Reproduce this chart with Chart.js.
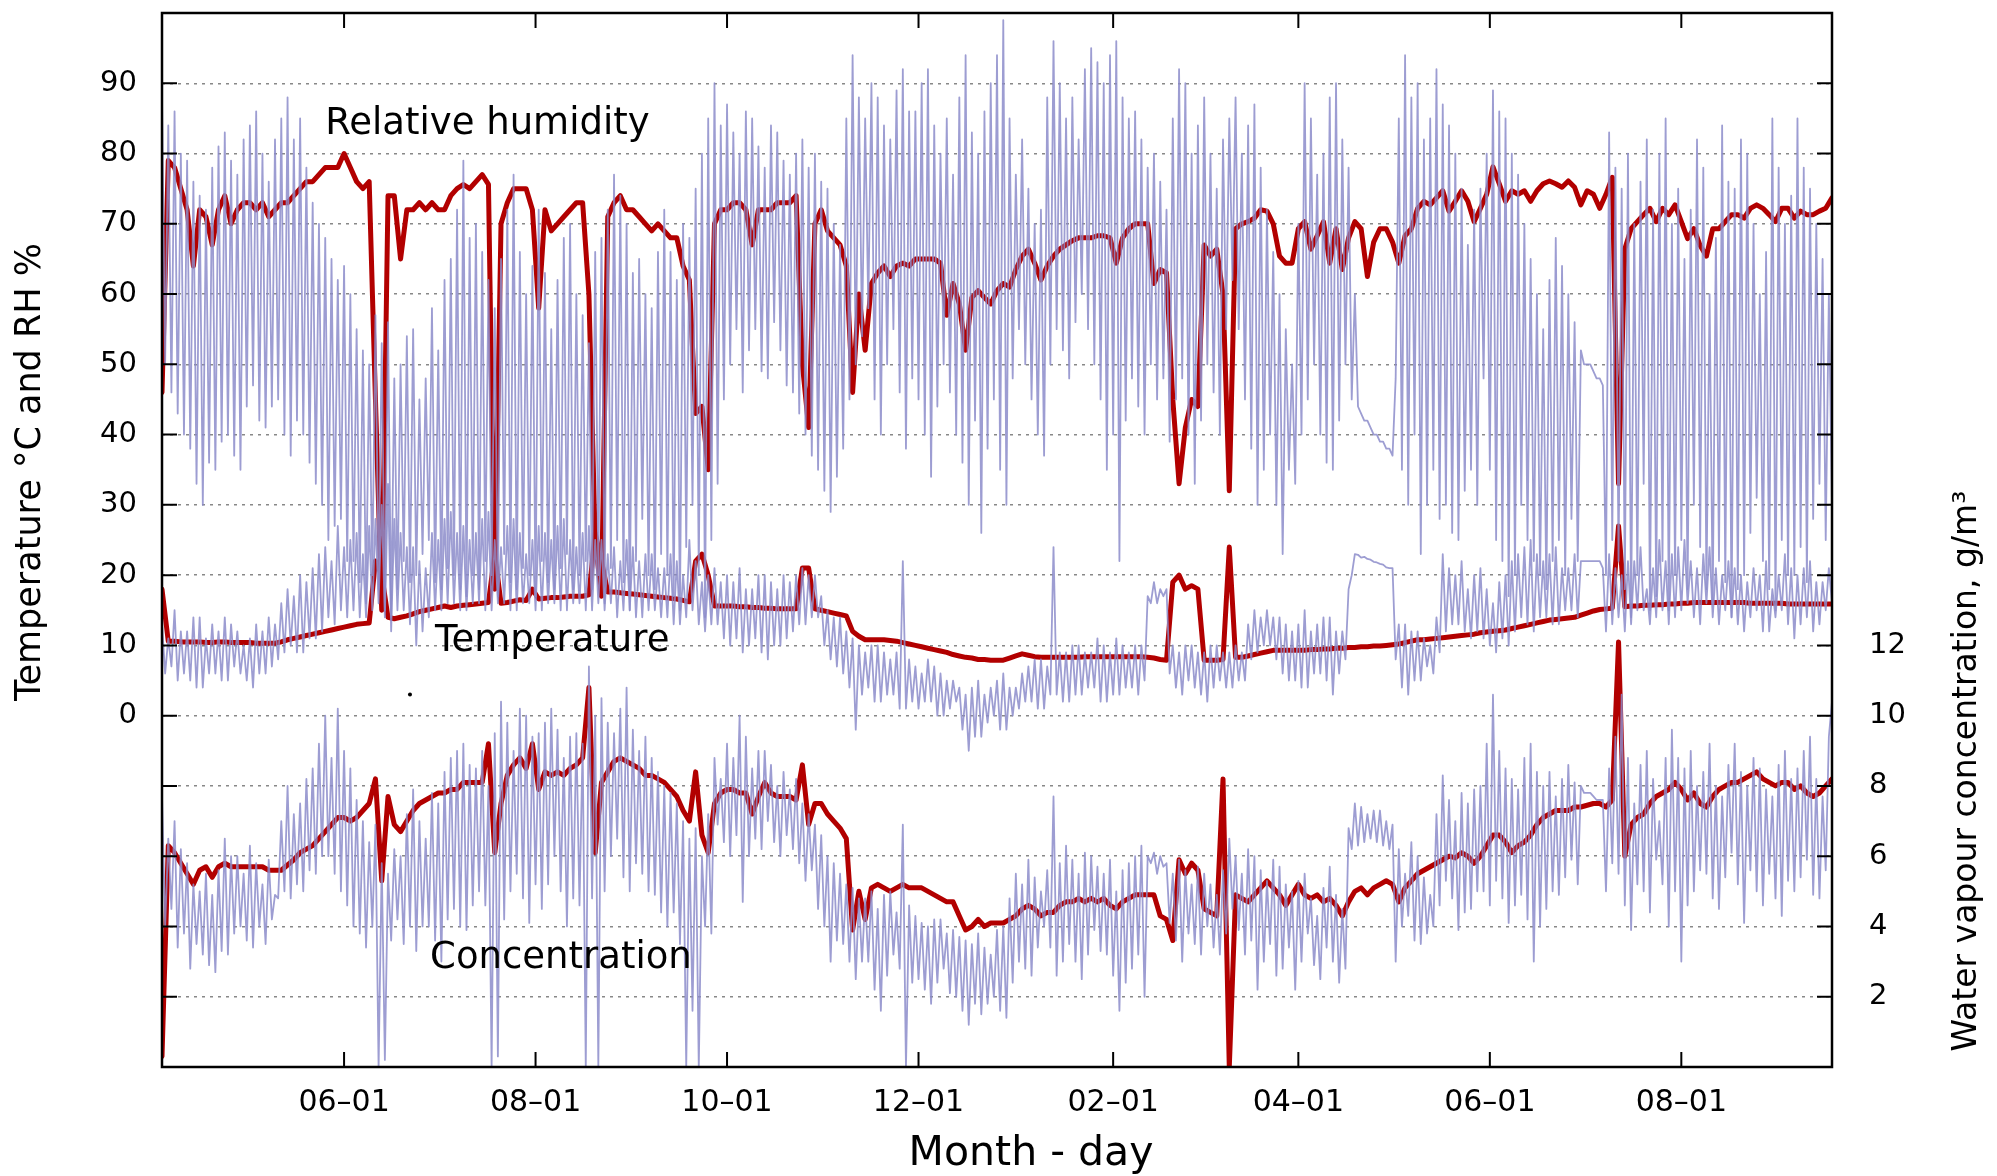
<!DOCTYPE html>
<html>
<head>
<meta charset="utf-8">
<script src="https://cdn.jsdelivr.net/npm/chart.js@4.4.1/dist/chart.umd.min.js"></script>
<style>
  html, body { margin: 0; padding: 0; background: #fff; }
  canvas { display: block; }
</style>
</head>
<body>
<canvas id="chart" width="1997" height="1176"></canvas>
<script>
// days counted from 1 April of the first year
// outdoor readings: one a day; indoor readings: one every 2 days
var FIRST_DAY = 3;
var OUT_STEP = 1;
var IN_STEP = 2;

var tickDays = [61, 122, 183, 244, 306, 365, 426, 487];
var tickLabels = ['06\u201301', '08\u201301', '10\u201301', '12\u201301', '02\u201301', '04\u201301', '06\u201301', '08\u201301'];

// indoor relative humidity, %
var rhIn = [
  46, 79, 78, 75, 72, 64, 72, 71, 67, 72,
  74, 70, 72, 73, 73, 72, 73, 71, 72, 73,
  73, 74, 75, 76, 76, 77, 78, 78, 78, 80,
  78, 76, 75, 76, 45, 15, 74, 74, 65, 72,
  72, 73, 72, 73, 72, 72, 74, 75, 75.6, 75,
  76, 77, 75.6, 18, 70, 73, 75, 75, 75, 72,
  58, 72, 69, 70, 71, 72, 73, 73, 60, 25,
  17, 71, 73, 74, 72, 72, 71, 70, 69, 70,
  69, 68, 68, 64, 62, 43, 44, 35, 70, 72,
  72, 73, 73, 72, 67, 72, 72, 72, 73, 73,
  73, 74, 50, 41, 70, 72, 69, 68, 67, 64,
  46, 60, 52, 61.5, 63, 64, 62.5, 64, 64.4, 64,
  65, 65, 65, 65, 64.4, 57, 61.5, 58.6, 52, 59.5,
  60.5, 59.5, 58.6, 60.5, 61.5, 61, 63.5, 65.4, 66.4, 64.4,
  62, 64, 65.4, 66.4, 67, 67.6, 68, 68, 68, 68.3,
  68.3, 68, 64.4, 68, 69.3, 70, 70, 70, 61.5, 63.5,
  63, 45, 33, 41, 45, 44, 67, 65.4, 66.4, 60,
  32, 69.3, 70, 70.3, 70.8, 72, 71.8, 70, 65.4, 64.4,
  64.4, 69.3, 70.3, 66.4, 68.3, 70.3, 64.4, 69.3, 63.5, 68,
  70.3, 69.3, 62.5, 67.4, 69.3, 69.3, 67.4, 64.4, 68.3, 69.3,
  72.2, 73.2, 72.7, 73.7, 74.7, 71.8, 73.2, 74.7, 73.2, 70.3,
  72.2, 74.2, 78.1, 75.7, 73.2, 74.7, 74.2, 74.7, 73.2, 74.7,
  75.7, 76.1, 75.7, 75.2, 76.1, 75.2, 72.7, 74.7, 74.2, 72.2,
  74.2, 76.6, 33, 66.4, 69.3, 70.3, 71.3, 72.2, 70.3, 72.2,
  71.3, 72.7, 70.3, 67.9, 69.3, 66.9, 65.4, 69.3, 69.3, 70.3,
  71.3, 71.3, 70.8, 72.2, 72.7, 72.2, 71.3, 70.3, 72.2, 72.2,
  70.8, 71.8, 71.3, 71.3, 71.8, 72.2, 73.7
];

// indoor temperature, °C
var tempIn = [
  18, 10.6, 10.6, 10.5, 10.5, 10.5, 10.5, 10.4, 10.4, 10.5,
  10.5, 10.4, 10.4, 10.4, 10.4, 10.3, 10.3, 10.3, 10.3, 10.5,
  10.8, 11.0, 11.2, 11.4, 11.6, 11.8, 12.0, 12.2, 12.4, 12.6,
  12.8, 13.0, 13.1, 13.2, 22, 20, 14, 13.8, 14.0, 14.2,
  14.5, 14.8, 15.0, 15.2, 15.4, 15.6, 15.4, 15.6, 15.7, 15.8,
  15.9, 16.0, 16.1, 23, 16, 16.1, 16.3, 16.5, 16.4, 18,
  16.6, 16.7, 16.8, 16.8, 16.9, 17.0, 17.0, 17.0, 17.2, 26,
  22, 17.6, 17.6, 17.5, 17.4, 17.3, 17.2, 17.1, 17.0, 16.9,
  16.8, 16.7, 16.6, 16.4, 16.2, 22, 23, 20, 15.6, 15.6,
  15.6, 15.6, 15.5, 15.5, 15.4, 15.4, 15.3, 15.3, 15.2, 15.2,
  15.2, 15.2, 21, 21, 15.2, 15.0, 14.8, 14.6, 14.4, 14.2,
  12, 11.3, 10.8, 10.8, 10.8, 10.8, 10.7, 10.6, 10.4, 10.2,
  10.0, 9.8, 9.6, 9.4, 9.2, 9.0, 8.7, 8.5, 8.3, 8.2,
  8.0, 8.0, 7.9, 7.9, 7.9, 8.2, 8.5, 8.8, 8.6, 8.4,
  8.3, 8.3, 8.3, 8.3, 8.3, 8.3, 8.3, 8.4, 8.4, 8.4,
  8.4, 8.4, 8.4, 8.4, 8.4, 8.4, 8.4, 8.3, 8.2, 8.0,
  7.9, 19, 20, 18, 18.5, 18, 7.9, 7.9, 7.9, 8.0,
  24, 8.3, 8.3, 8.5, 8.7, 8.9, 9.1, 9.3, 9.3, 9.3,
  9.3, 9.3, 9.3, 9.4, 9.4, 9.5, 9.5, 9.6, 9.6, 9.7,
  9.7, 9.8, 9.8, 9.9, 9.9, 10.0, 10.1, 10.2, 10.4, 10.6,
  10.8, 10.8, 10.9, 11.0, 11.1, 11.2, 11.3, 11.4, 11.5, 11.6,
  11.8, 11.9, 12.0, 12.1, 12.2, 12.4, 12.6, 12.8, 13.0, 13.2,
  13.4, 13.6, 13.7, 13.8, 13.9, 14.0, 14.3, 14.6, 14.9, 15.1,
  15.2, 15.3, 27, 15.5, 15.6, 15.6, 15.7, 15.7, 15.8, 15.8,
  15.9, 15.9, 16.0, 16.0, 16.1, 16.1, 16.1, 16.1, 16.1, 16.1,
  16.1, 16.1, 16.1, 16.0, 16.0, 16.0, 16.0, 16.0, 16.0, 15.9,
  15.9, 15.9, 15.9, 15.9, 15.9, 15.9, 15.9
];

// indoor water vapour concentration, g/m3
var concIn = [
  0.3, 6.3, 6.1, 5.8, 5.5, 5.2, 5.6, 5.7, 5.4, 5.7,
  5.8, 5.7, 5.7, 5.7, 5.7, 5.7, 5.7, 5.6, 5.6, 5.6,
  5.75, 5.9, 6.1, 6.2, 6.3, 6.5, 6.7, 6.9, 7.1, 7.1,
  7.0, 7.1, 7.3, 7.5, 8.2, 5.3, 7.7, 6.9, 6.7, 7.0,
  7.3, 7.5, 7.6, 7.7, 7.8, 7.8, 7.9, 7.9, 8.1, 8.1,
  8.1, 8.1, 9.2, 6.1, 7.5, 8.3, 8.6, 8.8, 8.5, 9.2,
  7.9, 8.4, 8.3, 8.4, 8.3, 8.5, 8.6, 8.8, 10.8, 6.1,
  8.1, 8.4, 8.7, 8.8, 8.7, 8.6, 8.5, 8.3, 8.3, 8.2,
  8.1, 7.9, 7.7, 7.3, 7.0, 8.4, 6.6, 6.1, 7.5, 7.8,
  7.9, 7.9, 7.8, 7.8, 7.2, 7.7, 8.1, 7.8, 7.7, 7.7,
  7.7, 7.6, 8.6, 6.9, 7.5, 7.5, 7.2, 7.0, 6.8, 6.5,
  3.9, 5.0, 4.2, 5.1, 5.2, 5.1, 5.0, 5.1, 5.2, 5.1,
  5.1, 5.1, 5.0, 4.9, 4.8, 4.7, 4.7, 4.3, 3.9, 4.0,
  4.2, 4.0, 4.1, 4.1, 4.1, 4.2, 4.3, 4.5, 4.6, 4.5,
  4.3, 4.4, 4.4, 4.6, 4.7, 4.7, 4.8, 4.7, 4.8, 4.7,
  4.8, 4.6, 4.5, 4.7, 4.8, 4.9, 4.9, 4.9, 4.9, 4.3,
  4.2, 3.6, 5.9, 5.5, 5.8, 5.6, 4.5, 4.4, 4.3, 8.2,
  0, 4.9, 4.8, 4.7, 4.9, 5.1, 5.3, 5.1, 4.9, 4.6,
  4.9, 5.2, 4.9, 4.8, 4.9, 4.7, 4.8, 4.6, 4.3, 4.7,
  5.0, 5.1, 4.9, 5.1, 5.2, 5.3, 5.2, 4.7, 5.1, 5.3,
  5.5, 5.6, 5.7, 5.8, 5.9, 6.0, 5.95, 6.1, 6.0, 5.8,
  6.0, 6.3, 6.6, 6.6, 6.4, 6.1, 6.3, 6.4, 6.6, 6.9,
  7.1, 7.2, 7.3, 7.3, 7.3, 7.4, 7.4, 7.45, 7.5, 7.5,
  7.4, 7.6, 12.1, 6.0, 6.9, 7.1, 7.2, 7.5, 7.7, 7.8,
  7.9, 8.1, 7.9, 7.6, 7.8, 7.5, 7.4, 7.7, 7.9, 8.0,
  8.1, 8.1, 8.2, 8.3, 8.4, 8.2, 8.1, 8.0, 8.1, 8.1,
  7.9, 8.0, 7.8, 7.7, 7.8, 8.0, 8.2
];

// outdoor relative humidity, %
var rhOut = [
  88,50,84,46, 86,43,80,40, 79,38,76,33, 74,30,72,36, 78,35,81,39,
  83,40,79,37, 77,35,82,44, 84,47,86,42, 80,41,76,44, 82,45,85,40,
  88,37,82,42, 85,40,78,36, 73,33,70,30, 68,25,65,27, 62,28,64,22,
  60,22,55,19, 52,16,50,20, 57,18,53,15, 56,14,48,18, 50,22,54,19,
  55,20,45,23, 48,25,58,19, 52,18,62,21, 65,20,72,18, 79,17,68,20,
  70,18,66,22, 62,20,58,17, 65,23,72,19, 77,18,66,21, 60,20,64,17,
  72,22,63,19, 55,18,62,21, 68,23,70,18, 60,20,57,22, 53,18,66,20,
  68,16,72,21, 77,25,74,19, 70,15,63,22, 65,28,60,20, 58,18,66,23,
  72,20,66,17, 62,15,70,24, 68,30,75,20, 80,14,85,25, 90,33,84,45,
  87,50,83,55, 80,46,86,52, 85,55,81,49, 78,48,84,56, 83,52,79,47,
  77,46,80,43, 82,40,78,37, 80,35,76,32, 75,29,70,34, 67,38,85,45,
  94,50,88,54, 85,58,90,45, 88,40,84,50, 82,55,89,46, 92,38,86,48,
  86,45,90,40, 92,34,84,44, 80,50,85,46, 77,40,88,36, 94,30,83,42,
  80,26,86,38, 90,45,94,35, 99,30,85,48, 77,55,82,50, 75,45,70,40,
  72,37,88,50, 96,55,90,52, 85,48,88,56, 82,60,92,55, 95,50,93,45,
  90,35,94,40, 96,22,88,42, 85,48,86,44, 82,40,78,50, 80,45,76,48,
  72,39,85,45, 92,48,90,40, 80,33,84,42, 88,50,80,46, 75,40,82,55,
  85,62,88,55, 80,45,84,38, 87,30,78,35, 72,40,66,30, 60,23,55,35,
  50,33,70,40, 90,45,85,50, 77,40,80,36, 88,35,90,42, 82,50,78,45,
  60,44,43,42, 42,41,40,40, 39,39,38,38, 37,48,85,35, 94,30,88,40,
  90,23,82,30, 85,35,92,28, 87,30,84,26, 80,25,75,32, 67,35,72,30,
  75,48,80,35, 89,25,86,22, 85,17,80,20, 77,30,70,25, 65,22,60,20,
  55,18,62,22, 68,25,64,20, 60,28,56,22, 52,50,50,50, 49,48,48,47,
  20,83,25,78, 22,75,18,80, 14,70,20,76, 33,82,15,72, 17,80,22,85,
  15,70,20,75, 25,65,18,72, 30,82,24,78, 18,60,16,68, 22,84,19,76,
  14,75,18,82, 20,80,26,70, 31,60,22,66, 18,85,15,78, 25,70,20,74,
  20,85,24,78, 19,75,28,70, 33,65,25,60, 30
];

// outdoor temperature, °C
var tempOut = [
  13,6,11,7, 15,5,12,6, 12,5,14,4, 14,4,11,6, 13,6,12,5,
  14,5,13,7, 12,6,10,5, 11,4,13,6, 12,6,14,7, 13,8,16,9,
  18,10,17,9, 20,9,19,11, 21,11,23,12, 24,14,22,13, 27,15,24,14,
  25,15,26,14, 23,14,27,15, 28,16,30,14, 33,12,28,15, 26,15,24,13,
  24,10,22,12, 21,14,26,15, 25,15,28,16, 29,16,26,15, 27,15,25,16,
  26,16,28,15, 29,15,25,16, 24,16,27,15, 28,15,26,16, 23,16,25,15,
  27,15,26,16, 25,16,27,15, 28,15,25,16, 24,16,26,15, 27,15,25,16,
  25,15,23,16, 24,14,22,15, 25,15,24,14, 22,14,23,15, 23,15,21,14,
  21,14,23,13, 22,13,20,14, 25,15,22,13, 19,12,20,13, 21,13,19,11,
  20,10,19,11, 21,9,18,10, 18,11,20,9, 20,8,19,10, 18,10,20,11,
  19,12,20,13, 21,13,20,14, 20,14,17,10, 15,8,14,7, 14,6,12,4,
  11,-2,10,3, 9,4,10,2, 10,2,9,3, 8,3,9,1, 22,1,8,2,
  7,1,6,2, 8,2,7,0, 6,0,5,1, 5,2,4,-2, 3,-5,4,-3,
  5,-3,3,-1, 4,0,5,-2, 6,-2,4,0, 4,1,6,2, 7,2,8,1,
  8,1,7,3, 24,3,9,2, 9,2,10,3, 10,3,9,4, 9,4,11,2,
  10,2,9,3, 11,3,10,4, 9,4,10,3, 10,5,17,16, 19,16,18,17,
  18,6,10,4, 9,3,10,5, 10,4,9,3, 9,2,10,4, 10,5,9,4,
  9,4,10,5, 9,5,13,8, 15,9,14,10, 15,10,14,8, 14,6,13,5,
  12,5,13,4, 15,4,12,6, 13,6,14,5, 14,3,12,6, 12,8,18,20,
  23,22.9,22.5,22.6, 22.3,22.2,21.9,21.8, 21.6,21.5,21.1,21, 21,8,13,4, 13,3,12,5,
  12,5,11,7, 10,6,14,9, 23,12,21,13, 20,13,22,12, 18,11,20,12,
  21,11,18,10, 16,9,19,11, 20,10,22,12, 23,14,24,13, 25,12,23,14,
  22,14,23,13, 24,13,21,15, 21,15,23,14, 22,22,22,22, 22,22,22,21,
  12,23,13,21, 14,20,12,22, 13,22,15,24, 15,18,13,21, 14,25,15,22,
  13,23,14,24, 15,25,16,22, 14,21,13,23, 16,24,14,21, 13,20,15,22,
  14,21,13,20, 12,19,14,21, 15,20,12,22, 12,18,14,20, 15,23,13,21,
  11,20,13,21, 14,22,12,19, 13,19,15,21, 16
];

// outdoor water vapour concentration, g/m3
var concOut = [
  7.7,4,6.5,4.5, 7,3.4,6.2,3.8, 5.8,2.8,5.2,3.5, 5,3.2,5.5,2.9, 4.9,2.7,5.6,3.3,
  6.5,3.2,6,3.8, 6,4,5.5,3.6, 6.3,3.4,5.8,4, 5.2,3.5,5.9,4.2, 4.9,4.8,7,5,
  8,4.8,7.2,5.2, 7.5,5,8.2,5.6, 8.5,5.5,9.2,6, 10,6,8.8,5.5, 10.2,5,9,4.6,
  8.5,4,7.6,3.8, 7,3.4,6.4,4, 6.9,0,5.8,0.2, 5.5,3.6,6.2,4.2, 6,3.5,7.2,4,
  7.9,3.3,7,4, 6.5,4,7.8,3.6, 7.5,3,8.4,4.2, 8.8,4.5,9,4, 9.2,3.9,8.6,4.6,
  8.5,5,9,4.6, 8,0,9.5,0.3, 10.4,4.2,9.8,5, 9,5.5,10.2,4.8, 10,4.1,9.4,5.2,
  9.5,4.5,9.8,5.2, 10.2,6,9.6,5, 8.8,4,9.4,4.8, 9.5,4.6,9.2,0, 11.4,4.8,10,0,
  10.5,5,9.8,6, 9.5,6.5,10.2,5.4, 10.8,5,9.6,5.8, 9,5.5,9.4,5, 8.8,4.9,8.4,4.4,
  8,4,7.8,4.4, 7.5,3.5,7,0, 6.5,1.6,6.8,0, 6,4,7.2,3.8, 8.8,6.9,8.2,6.4,
  9.2,6,8.8,6.6, 10,4.7,9.4,6, 8.5,6.5,9,6.2, 9,7,8.6,6.4, 8,6,8.4,6.6,
  7.9,6.2,8.2,5.8, 7.5,5.3,7.2,5.6, 6.9,4.5,6.6,4, 6,3,5.8,3.6, 5.5,3.5,5.2,3,
  5.1,2.5,4.8,3, 4.8,3,5,2.2, 4.5,1.6,4.9,2.6, 5,3.2,4.4,2.8, 6.9,0,4.6,2.4,
  4.3,2.5,4.1,2.2, 4,1.8,4.2,2.4, 4.2,2.8,3.8,2.1, 3.9,2,3.7,1.6, 3.6,1.2,3.5,1.8,
  3.8,1.5,3.4,1.8, 3.2,2,3.9,1.6, 4,1.4,4.8,2.4, 5.5,3,5.2,2.8, 5.9,2.6,5.4,3.4,
  5,4,5.6,3.4, 7.7,2.6,5.8,3, 6.3,3.5,5.9,3, 5.5,2.5,6.1,3.2, 6,3.9,5.7,3.3,
  5.5,3.2,5.9,2.6, 5,1.6,5.6,2.4, 5.8,2.8,6,3.2, 6.3,2,6,5.8, 6.1,5.5,6,5.7,
  5.8,4.1,5.5,3.6, 5.9,3,5.6,3.8, 5.2,3.5,5.7,3.2, 5.5,4,5.2,3.4, 4.9,3.2,5.6,3.8,
  6.5,4.5,6,3.9, 5.5,3.2,6.2,3.6, 6,2.2,5.6,3, 5.3,3.5,5.9,2.6, 5.7,2.8,5.2,3.4,
  5,2.2,5.3,3, 5.5,3.8,4.8,2.9, 4.3,2.5,5.1,3.4, 5.7,3,4.9,2.4, 4.5,2.8,6.8,6.2,
  7.5,6.3,7.4,6.4, 7.2,6.5,7.3,6.4, 7.3,6.3,7,6.2, 6.9,3,6.2,4, 5.5,4.3,6.4,3.6,
  6,3.5,5.4,3.8, 4.9,4,7.2,4.6, 8.3,5.3,7.6,4.8, 7,3.9,7.8,4.4, 7.5,4.5,7.9,5,
  8,5,9.2,4.6, 10.6,5.3,9,4.8, 8.5,4.1,8.2,4.6, 7.9,4.9,8.8,4.2, 9.2,3,8.4,4,
  8,4.5,8.4,5, 7.7,4.9,8.2,5.4, 8.6,5.9,8.1,5.2, 8,7.8,7.8,7.8, 7.7,7.6,7.6,7.6,
  5,8.5,5.8,9.4, 5.5,10.6,4.6,8.8, 3.9,7.5,5.2,8.6, 5,9,4.4,8.2, 5.9,7,5.2,8.8,
  4,9.6,5,8.8, 3,8.5,4.6,9, 5,8,5.6,8.4, 5.5,9.2,4.8,8, 4.5,7.7,5.4,8.6,
  6.1,9.2,5.2,8.4, 4.1,8,5.6,8.8, 5,8.5,4.6,7.9, 5.5,7.7,4.8,8.6, 4.3,9,5.3,8.2,
  5,8.5,5.4,9, 5.9,9.4,4.9,8.2, 4.8,7.7,5.6,9.4, 10.4
];

// lone point near the temperature label
var strayDays = [82];
var strayValues = [3];

function series(values, step) {
  return values.map(function (v, i) {
    return { x: FIRST_DAY + step * i, y: v };
  });
}

var FONT = 'DejaVu Sans';
var BLUE = 'rgba(140,140,202,0.85)';
var RED = '#b20000';

var notes = [
  { text: 'Relative humidity', day: 55, value: 84.2 },
  { text: 'Temperature', day: 90, value: 10.6 },
  { text: 'Concentration', day: 88.4, value: -34.5 }
];

// keep the plot box where the reference has it
function noPadding(scale) {
  scale.paddingTop = 0;
  scale.paddingBottom = 0;
  scale.paddingLeft = 0;
  scale.paddingRight = 0;
}

var framePlugin = {
  id: 'frame',
  afterDatasetsDraw: function (chart) {
    var ctx = chart.ctx, xs = chart.scales.x, ys = chart.scales.y;
    ctx.save();
    ctx.fillStyle = '#000';
    ctx.font = '37px "' + FONT + '"';
    ctx.textAlign = 'left';
    ctx.textBaseline = 'middle';
    notes.forEach(function (n) {
      ctx.fillText(n.text, xs.getPixelForValue(n.day), ys.getPixelForValue(n.value));
    });
    ctx.restore();
  },
  afterDraw: function (chart) {
    var ctx = chart.ctx, a = chart.chartArea;
    var xs = chart.scales.x, ys = chart.scales.y;
    var tl = 15;
    ctx.save();
    ctx.strokeStyle = '#000';
    ctx.lineWidth = 2;
    ctx.beginPath();
    xs.ticks.forEach(function (t) {
      var px = xs.getPixelForValue(t.value);
      ctx.moveTo(px, a.bottom); ctx.lineTo(px, a.bottom - tl);
      ctx.moveTo(px, a.top); ctx.lineTo(px, a.top + tl);
    });
    ys.ticks.forEach(function (t) {
      if (t.value <= ys.min || t.value >= ys.max) return;
      var py = ys.getPixelForValue(t.value);
      ctx.moveTo(a.left, py); ctx.lineTo(a.left + tl, py);
      ctx.moveTo(a.right, py); ctx.lineTo(a.right - tl, py);
    });
    ctx.stroke();
    ctx.lineWidth = 2.5;
    ctx.strokeRect(a.left, a.top, a.right - a.left, a.bottom - a.top);

    ctx.fillStyle = '#000';
    ctx.textAlign = 'center';
    ctx.textBaseline = 'middle';
    ctx.font = '41px "' + FONT + '"';
    ctx.fillText('Month - day', 1031, 1154);

    ctx.font = '35px "' + FONT + '"';
    ctx.save();
    ctx.translate(31, 472);
    ctx.rotate(-Math.PI / 2);
    ctx.fillText('Temperature \u00b0C and RH %', 0, 0);
    ctx.restore();

    ctx.font = '33px "' + FONT + '"';
    ctx.save();
    ctx.translate(1967, 771);
    ctx.rotate(-Math.PI / 2);
    ctx.fillText('Water vapour concentration, g/m\u00b3', 0, 0);
    ctx.restore();
    ctx.restore();
  }
};

Chart.defaults.font.family = FONT;
Chart.defaults.color = '#000';

var ctx = document.getElementById('chart').getContext('2d');
new Chart(ctx, {
  type: 'line',
  data: {
    datasets: [
      { data: series(rhOut, OUT_STEP), yAxisID: 'y', borderColor: BLUE, borderWidth: 1.8 },
      { data: series(tempOut, OUT_STEP), yAxisID: 'y', borderColor: BLUE, borderWidth: 1.8 },
      { data: series(concOut, OUT_STEP), yAxisID: 'y2', borderColor: BLUE, borderWidth: 1.8 },
      { data: series(rhIn, IN_STEP), yAxisID: 'y', borderColor: RED, borderWidth: 5 },
      { data: series(tempIn, IN_STEP), yAxisID: 'y', borderColor: RED, borderWidth: 5 },
      { data: series(concIn, IN_STEP), yAxisID: 'y2', borderColor: RED, borderWidth: 5 },
      {
        type: 'scatter',
        data: strayDays.map(function (d, i) { return { x: d, y: strayValues[i] }; }),
        yAxisID: 'y', pointRadius: 2, pointBackgroundColor: '#000', pointBorderWidth: 0, showLine: false
      }
    ]
  },
  options: {
    responsive: false,
    animation: false,
    devicePixelRatio: 1,
    layout: { padding: { top: 13, left: 0, right: 0, bottom: 0 } },
    plugins: { legend: { display: false }, tooltip: { enabled: false } },
    elements: {
      point: { radius: 0 },
      line: { tension: 0, fill: false, borderJoinStyle: 'round', borderCapStyle: 'round' }
    },
    scales: {
      x: {
        type: 'linear',
        min: 3,
        max: 535,
        grid: { display: false },
        border: { display: false },
        afterBuildTicks: function (scale) {
          scale.ticks = tickDays.map(function (d) { return { value: d }; });
        },
        afterFit: function (scale) { scale.height = 109; noPadding(scale); },
        ticks: {
          autoSkip: false,
          maxRotation: 0,
          padding: 10,
          font: { size: 30 },
          callback: function (v) { return tickLabels[tickDays.indexOf(v)]; }
        }
      },
      y: {
        position: 'left',
        min: -50,
        max: 100,
        afterFit: function (scale) { scale.width = 162; noPadding(scale); },
        grid: { color: '#888', lineWidth: 1.5, drawTicks: false },
        border: { display: false, dash: [3, 5] },
        ticks: {
          stepSize: 10,
          autoSkip: false,
          padding: 25,
          font: { size: 29 },
          callback: function (v) { return (v >= 0 && v <= 90) ? v : ''; }
        }
      },
      y2: {
        position: 'right',
        min: 0,
        max: 30,
        afterFit: function (scale) { scale.width = 165; noPadding(scale); },
        grid: { drawOnChartArea: false, drawTicks: false },
        border: { display: false },
        ticks: {
          stepSize: 2,
          autoSkip: false,
          padding: 37,
          font: { size: 29 },
          callback: function (v) { return (v >= 2 && v <= 12) ? v : ''; }
        }
      }
    }
  },
  plugins: [framePlugin]
});
</script>
</body>
</html>
